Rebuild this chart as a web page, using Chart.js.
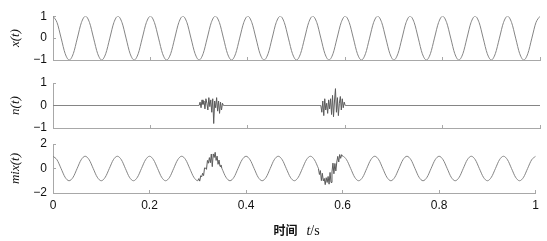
<!DOCTYPE html>
<html>
<head>
<meta charset="utf-8">
<script src="https://cdn.jsdelivr.net/npm/chart.js@4.4.1/dist/chart.umd.min.js"></script>
<style>
  body { margin: 0; background: #fff; }
  #wrap { position: relative; width: 547px; height: 241px; }
  #wrap canvas { position: absolute; left: 0; top: 0; }
  #xtitle {
    position: absolute; left: 53px; width: 487px; top: 222px;
    text-align: center; font-size: 12px; line-height: 16px; color: #111;
  }
  #xtitle .cn { font-family: "Noto Sans CJK SC"; font-weight: bold; }
  #xtitle .it { font-family: "Liberation Serif"; font-style: italic; font-size: 14px; margin-left: 9px; }
  #xtitle .rm { font-family: "Liberation Serif"; font-size: 14px; }
</style>
</head>
<body>
<div id="wrap">
  <canvas id="c1" width="547" height="241"></canvas>
  <canvas id="c2" width="547" height="241"></canvas>
  <canvas id="c3" width="547" height="241"></canvas>
  <div id="xtitle"><span class="cn">时间</span><span class="it">t</span><span class="rm">/s</span></div>
</div>
<script>
// sample times for the 15 Hz carrier (8 samples per period)
const sigT = [
  0, 0.0083, 0.0167, 0.025, 0.0333, 0.0417, 0.05, 0.0583, 0.0667, 0.075, 0.0833, 0.0917,
  0.1, 0.1083, 0.1167, 0.125, 0.1333, 0.1417, 0.15, 0.1583, 0.1667, 0.175, 0.1833, 0.1917,
  0.2, 0.2083, 0.2167, 0.225, 0.2333, 0.2417, 0.25, 0.2583, 0.2667, 0.275, 0.2833, 0.2917,
  0.3, 0.3083, 0.3167, 0.325, 0.3333, 0.3417, 0.35, 0.3583, 0.3667, 0.375, 0.3833, 0.3917,
  0.4, 0.4083, 0.4167, 0.425, 0.4333, 0.4417, 0.45, 0.4583, 0.4667, 0.475, 0.4833, 0.4917,
  0.5, 0.5083, 0.5167, 0.525, 0.5333, 0.5417, 0.55, 0.5583, 0.5667, 0.575, 0.5833, 0.5917,
  0.6, 0.6083, 0.6167, 0.625, 0.6333, 0.6417, 0.65, 0.6583, 0.6667, 0.675, 0.6833, 0.6917,
  0.7, 0.7083, 0.7167, 0.725, 0.7333, 0.7417, 0.75, 0.7583, 0.7667, 0.775, 0.7833, 0.7917,
  0.8, 0.8083, 0.8167, 0.825, 0.8333, 0.8417, 0.85, 0.8583, 0.8667, 0.875, 0.8833, 0.8917,
  0.9, 0.9083, 0.9167, 0.925, 0.9333, 0.9417, 0.95, 0.9583, 0.9667, 0.975, 0.9833, 0.9917,
  1
];
const sigX = [
  1, 0.71, 0, -0.71, -1, -0.71, 0, 0.71, 1, 0.71, 0, -0.71,
  -1, -0.71, 0, 0.71, 1, 0.71, 0, -0.71, -1, -0.71, 0, 0.71,
  1, 0.71, 0, -0.71, -1, -0.71, 0, 0.71, 1, 0.71, 0, -0.71,
  -1, -0.71, 0, 0.71, 1, 0.71, 0, -0.71, -1, -0.71, 0, 0.71,
  1, 0.71, 0, -0.71, -1, -0.71, 0, 0.71, 1, 0.71, 0, -0.71,
  -1, -0.71, 0, 0.71, 1, 0.71, 0, -0.71, -1, -0.71, 0, 0.71,
  1, 0.71, 0, -0.71, -1, -0.71, 0, 0.71, 1, 0.71, 0, -0.71,
  -1, -0.71, 0, 0.71, 1, 0.71, 0, -0.71, -1, -0.71, 0, 0.71,
  1, 0.71, 0, -0.71, -1, -0.71, 0, 0.71, 1, 0.71, 0, -0.71,
  -1, -0.71, 0, 0.71, 1, 0.71, 0, -0.71, -1, -0.71, 0, 0.71,
  1
];

// first noise burst
const burstT1 = [0.300, 0.302, 0.304, 0.306, 0.308, 0.310, 0.312, 0.314, 0.316, 0.318, 0.320, 0.322, 0.324,
                 0.326, 0.328, 0.330, 0.332, 0.334, 0.336, 0.338, 0.340, 0.342, 0.344, 0.346, 0.348, 0.350];
const burstN1 = [0, 0.15, -0.1, 0.25, 0.05, 0.2, -0.15, 0.3, 0.1, -0.2, 0.35, -0.05, 0.25,
                 -0.3, 0.3, -0.8, 0.2, -0.1, 0.35, -0.25, 0.2, -0.35, 0.15, -0.2, 0.1, 0];
const burstMix1 = [-1, -0.83, -1.03, -0.59, -0.68, -0.39, -0.58, 0.05, 0.04, -0.07, 0.66, 0.43, 0.89,
                   0.47, 1.18, 0.15, 1.19, 0.9, 1.32, 0.66, 1.01, 0.34, 0.69, 0.17, 0.29, 0];

// second noise burst
const burstT2 = [0.550, 0.552, 0.554, 0.556, 0.558, 0.560, 0.562, 0.564, 0.566, 0.568, 0.570, 0.572, 0.574,
                 0.576, 0.578, 0.580, 0.582, 0.584, 0.586, 0.588, 0.590, 0.592, 0.594, 0.596, 0.598, 0.600];
const burstN2 = [0, -0.3, 0.2, -0.45, 0.3, -0.2, 0.1, -0.35, 0.25, -0.15, 0.3, -0.4, 0.45,
                 -0.5, 0.2, 0.75, -0.3, 0.35, -0.45, 0.1, 0.4, -0.2, 0.3, -0.1, 0.15, 0];
const burstMix2 = [0, -0.49, -0.17, -0.99, -0.39, -1.01, -0.81, -1.32, -0.75, -1.14, -0.65, -1.28, -0.32,
                   -1.14, -0.28, 0.44, -0.43, 0.41, -0.2, 0.53, 0.99, 0.53, 1.14, 0.83, 1.13, 1];

const xTickLabels = ['0', '0.2', '0.4', '0.6', '0.8', '1'];
const yTicks1 = ['\u22121', '0', '1'];
const yTicks2 = ['\u22121', '0', '1'];
const yTicks3 = ['\u22122', '0', '2'];

const AXIS = '#a8a8a8';
const SIG = '#858585';
const NOISE = '#5a5a5a';
const tickFont = { family: 'Liberation Sans', size: 12 };

const pts = (xs, ys) => xs.map((x, i) => ({ x: x, y: ys[i] }));
const inBurst = (a, b) =>
  (a >= burstT1[0] && b <= burstT1[burstT1.length - 1]) ||
  (a >= burstT2[0] && b <= burstT2[burstT2.length - 1]);

function panel(id, datasets, yMin, yMax, yLabels, yTitle, top, bottom, showX) {
  const xh = showX ? 20 : 0;
  return new Chart(document.getElementById(id), {
    type: 'line',
    data: { datasets: datasets },
    options: {
      responsive: false,
      animation: false,
      events: [],
      layout: { padding: { top: top, bottom: 241 - bottom - xh, left: 0, right: 7 } },
      plugins: { legend: { display: false }, tooltip: { enabled: false } },
      elements: { point: { radius: 0 }, line: { borderWidth: 1 } },
      scales: {
        x: {
          type: 'linear', min: 0, max: 1,
          ticks: { display: showX, stepSize: 0.2, padding: 8, color: '#111', font: tickFont,
                   callback: (v, i) => xTickLabels[i] },
          grid: { drawOnChartArea: false, drawTicks: true, tickLength: -3, color: AXIS },
          border: { color: AXIS },
          afterFit: s => { s.height = xh; }
        },
        y: {
          min: yMin, max: yMax,
          ticks: { stepSize: (yMax - yMin) / 2, padding: 9, color: '#111', font: tickFont,
                   callback: (v, i) => yLabels[i] },
          grid: { drawOnChartArea: false, drawTicks: true, tickLength: -3, color: AXIS },
          border: { color: AXIS },
          title: { display: true, text: yTitle, color: '#111',
                   font: { family: 'Liberation Serif', style: 'italic', size: 13 },
                   padding: { top: 8, bottom: 0 } },
          afterFit: s => { s.width = 53; }
        }
      }
    }
  });
}

panel('c1', [
  { data: pts(sigT, sigX), borderColor: SIG, cubicInterpolationMode: 'monotone' }
], -1, 1, yTicks1, 'x(t)', 14, 60, false);

panel('c2', [
  { data: [{ x: 0, y: 0 }].concat(pts(burstT1, burstN1), pts(burstT2, burstN2), [{ x: 1, y: 0 }]),
    borderColor: SIG,
    segment: { borderColor: c => inBurst(c.p0.parsed.x, c.p1.parsed.x) ? NOISE : undefined } }
], -1, 1, yTicks2, 'n(t)', 83, 128, false);

panel('c3', [
  { data: pts(sigT, sigX), borderColor: SIG, cubicInterpolationMode: 'monotone',
    segment: { borderColor: c => inBurst(c.p0.parsed.x, c.p1.parsed.x) ? 'rgba(0,0,0,0)' : undefined } },
  { data: pts(burstT1, burstMix1), borderColor: NOISE },
  { data: pts(burstT2, burstMix2), borderColor: NOISE }
], -2, 2, yTicks3, 'mix(t)', 144, 193, true);
</script>
</body>
</html>
